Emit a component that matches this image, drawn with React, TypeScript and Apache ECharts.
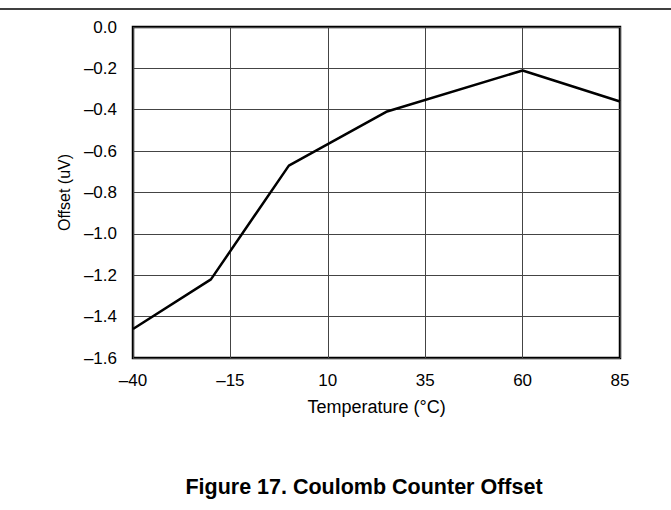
import React, { useEffect, useRef } from "react";
import * as echarts from "echarts";

// ---- data ----
const temperatures = [-40, -20, 0, 25, 60, 85];
const offsets = [-1.46, -1.22, -0.67, -0.41, -0.21, -0.36];
const xTickLabels = ["–40", "–15", "10", "35", "60", "85"];
const xName = "Temperature (°C)";
const yName = "Offset (uV)";
const caption = "Figure 17. Coulomb Counter Offset";

const X_ORIGIN = -40; // x axis is drawn as (t - X_ORIGIN) so ticks start at a multiple of the interval
const X_STEP = 25;

const FONT = "'Liberation Sans', Arial, Helvetica, sans-serif";

export default function App() {
  const ref = useRef<HTMLDivElement>(null);

  useEffect(() => {
    if (!ref.current) return;
    const chart = echarts.init(ref.current, undefined, { renderer: "svg" });
    const data = temperatures.map((t, i) => [t - X_ORIGIN, offsets[i]]);
    chart.setOption({
      animation: false,
      backgroundColor: "#ffffff",
      textStyle: { fontFamily: FONT },
      grid: {
        left: 133,
        right: 51,
        top: 27,
        bottom: 152,
        show: true,
        borderColor: "#000",
        borderWidth: 2.5,
        containLabel: false,
      },
      xAxis: {
        type: "value",
        min: 0,
        max: (xTickLabels.length - 1) * X_STEP,
        interval: X_STEP,
        name: xName,
        nameLocation: "middle",
        nameGap: 40,
        nameTextStyle: { color: "#000", fontSize: 18, fontFamily: FONT },
        axisLine: { show: false },
        axisTick: { show: false },
        splitLine: { show: true, lineStyle: { color: "#444", width: 1 } },
        axisLabel: {
          color: "#000",
          fontSize: 17,
          fontFamily: FONT,
          margin: 14,
          formatter: (v: number) => {
            const idx = Math.round(v / X_STEP);
            return xTickLabels[idx] ?? "";
          },
        },
      },
      yAxis: {
        type: "value",
        min: -1.6,
        max: 0,
        interval: 0.2,
        name: yName,
        nameLocation: "middle",
        nameGap: 61,
        nameTextStyle: { color: "#000", fontSize: 16, fontFamily: FONT },
        axisLine: { show: false },
        axisTick: { show: false },
        splitLine: { show: true, lineStyle: { color: "#444", width: 1 } },
        axisLabel: {
          color: "#000",
          fontSize: 17,
          fontFamily: FONT,
          margin: 16,
          formatter: (v: number) => v.toFixed(1).replace("-", "–"),
        },
      },
      series: [
        {
          type: "line",
          data,
          symbol: "none",
          lineStyle: { color: "#000", width: 2.5 },
          z: 5,
        },
      ],
      graphic: [
        {
          type: "line",
          shape: { x1: 0, y1: 9, x2: 671, y2: 9 },
          style: { stroke: "#000", lineWidth: 1.5 },
        },
        {
          type: "text",
          x: 364,
          y: 487,
          style: {
            text: caption,
            font: `bold 21.5px ${FONT}`,
            fill: "#000",
            textAlign: "center",
            textVerticalAlign: "middle",
          },
        },
      ],
    });
    return () => chart.dispose();
  }, []);

  return (
    <div
      ref={ref}
      style={{ position: "fixed", left: 0, top: 0, width: 671, height: 510 }}
    />
  );
}
